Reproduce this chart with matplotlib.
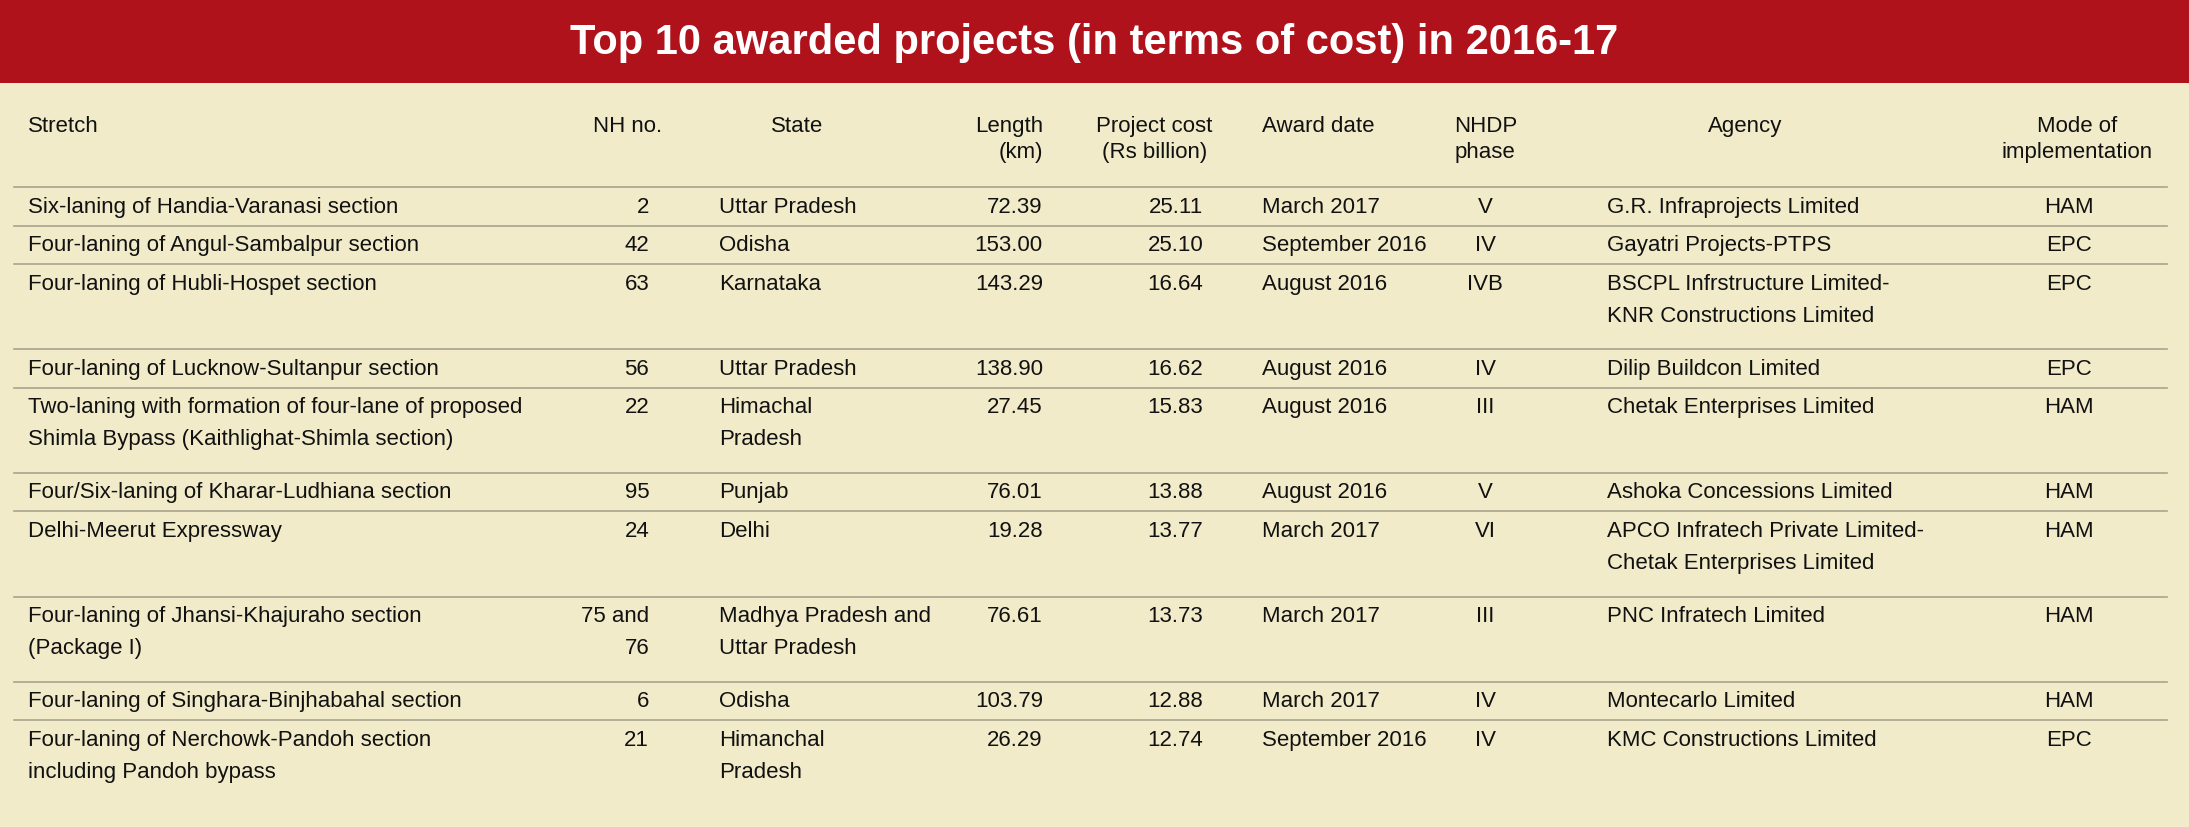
import matplotlib
matplotlib.use("Agg")
import matplotlib.pyplot as plt

TITLE = "Top 10 awarded projects (in terms of cost) in 2016-17"
RED = "#B0121B"
BG = "#F1EBC9"
LINE = "#A8A48C"

stretch = ["Six-laning of Handia-Varanasi section",
           "Four-laning of Angul-Sambalpur section",
           "Four-laning of Hubli-Hospet section",
           "Four-laning of Lucknow-Sultanpur section",
           "Two-laning with formation of four-lane of proposed\nShimla Bypass (Kaithlighat-Shimla section)",
           "Four/Six-laning of Kharar-Ludhiana section",
           "Delhi-Meerut Expressway",
           "Four-laning of Jhansi-Khajuraho section\n(Package I)",
           "Four-laning of Singhara-Binjhabahal section",
           "Four-laning of Nerchowk-Pandoh section\nincluding Pandoh bypass"]
nh_no = ["2", "42", "63", "56", "22", "95", "24", "75 and\n76", "6", "21"]
state = ["Uttar Pradesh", "Odisha", "Karnataka", "Uttar Pradesh", "Himachal\nPradesh",
         "Punjab", "Delhi", "Madhya Pradesh and\nUttar Pradesh", "Odisha", "Himanchal\nPradesh"]
length_km = [72.39, 153.00, 143.29, 138.90, 27.45, 76.01, 19.28, 76.61, 103.79, 26.29]
cost_bn = [25.11, 25.10, 16.64, 16.62, 15.83, 13.88, 13.77, 13.73, 12.88, 12.74]
award_date = ["March 2017", "September 2016", "August 2016", "August 2016", "August 2016",
              "August 2016", "March 2017", "March 2017", "March 2017", "September 2016"]
phase = ["V", "IV", "IVB", "IV", "III", "V", "VI", "III", "IV", "IV"]
agency = ["G.R. Infraprojects Limited", "Gayatri Projects-PTPS",
          "BSCPL Infrstructure Limited-\nKNR Constructions Limited",
          "Dilip Buildcon Limited", "Chetak Enterprises Limited",
          "Ashoka Concessions Limited",
          "APCO Infratech Private Limited-\nChetak Enterprises Limited",
          "PNC Infratech Limited", "Montecarlo Limited", "KMC Constructions Limited"]
mode = ["HAM", "EPC", "EPC", "EPC", "HAM", "HAM", "HAM", "HAM", "HAM", "EPC"]

headers = ["Stretch", "NH no.", "State", "Length\n(km)", "Project cost\n(Rs billion)",
           "Award date", "NHDP\nphase", "Agency", "Mode of\nimplementation"]
head_pos = [(20, "left"), (425, "left"), (571, "center"), (747, "right"), (827, "center"),
            (904, "left"), (1064, "center"), (1250, "center"), (1488, "center")]
body_pos = [(20, "left"), (465, "right"), (515, "left"), (747, "right"), (862, "right"),
            (904, "left"), (1064, "center"), (1151, "left"), (1482, "center")]

W, H = 1568, 593
FONT = ["Liberation Sans", "DejaVu Sans"]
FS = 16

fig = plt.figure(figsize=(21.89, 8.28), dpi=100)
fig.patch.set_facecolor(BG)
ax = fig.add_axes([0, 0, 1, 1])
ax.set_xlim(0, W)
ax.set_ylim(H, 0)
ax.axis("off")

ax.add_patch(plt.Rectangle((0, 0), W, 60, color=RED, lw=0))
ax.text(W / 2, 31, TITLE, color="white", fontsize=30, fontweight="bold",
        ha="center", va="center", family=FONT)

for (x, ha), h in zip(head_pos, headers):
    ax.text(x, 83, h, ha=ha, va="top", fontsize=FS, family=FONT,
            linespacing=1.3, color="#111111")

y = 135
ax.plot([10, 1552], [y, y], color=LINE, lw=1.2)
for i in range(len(stretch)):
    row = [stretch[i], nh_no[i], state[i], f"{length_km[i]:.2f}", f"{cost_bn[i]:.2f}",
           award_date[i], phase[i], agency[i], mode[i]]
    nlines = max(c.count("\n") + 1 for c in row)
    for (x, ha), c in zip(body_pos, row):
        ax.text(x, y + 6, c, ha=ha, va="top", fontsize=FS, family=FONT,
                linespacing=1.7, color="#111111")
    y += 61 if nlines > 1 else 27.5
    if i < len(stretch) - 1:
        ax.plot([10, 1552], [y, y], color=LINE, lw=1.2)

fig.savefig("out.png", dpi=100, facecolor=BG)
